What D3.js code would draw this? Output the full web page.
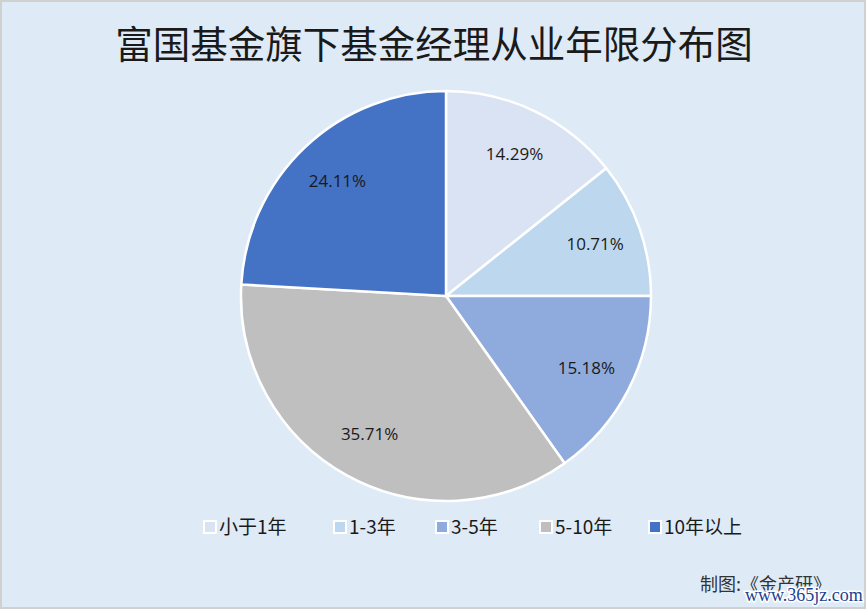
<!DOCTYPE html>
<html><head><meta charset="utf-8">
<script src="https://cdn.jsdelivr.net/npm/d3@7"></script>
<style>html,body{margin:0;padding:0;background:#fff;}svg{display:block;}</style>
</head><body>
<script>
const title = "富国基金旗下基金经理从业年限分布图";
const categories = ["小于1年", "1-3年", "3-5年", "5-10年", "10年以上"];
const values = [14.29, 10.71, 15.18, 35.71, 24.11];
const colors = ["#dae3f3", "#bdd7ee", "#8faadc", "#bfbfbf", "#4472c4"];
const credit = "制图:《金产研》";
const watermark = "www.365jz.com";

const W = 867, H = 610;
const svg = d3.select("body").append("svg").attr("width", W).attr("height", H);
svg.append("rect").attr("x", 1).attr("y", 1).attr("width", W - 3).attr("height", H - 3)
  .attr("fill", "#deebf7").attr("stroke", "#d0d0d0").attr("stroke-width", 2);

svg.append("text").attr("x", 434).attr("y", 58).attr("text-anchor", "middle")
  .attr("font-family", "Noto Sans CJK SC").attr("font-size", 37.5).attr("fill", "#1a1a1a").text(title);

const cx = 446, cy = 296, R = 205;
const pie = d3.pie().sort(null).value(d => d)(values);
const arc = d3.arc().innerRadius(0).outerRadius(R);
const labelArc = d3.arc().innerRadius(158).outerRadius(158);
const g = svg.append("g").attr("transform", `translate(${cx},${cy})`);
g.selectAll("path").data(pie).join("path").attr("d", arc)
  .attr("fill", (d, i) => colors[i]).attr("stroke", "#fff").attr("stroke-width", 2.5).attr("stroke-linejoin", "round");
g.selectAll("text").data(pie).join("text")
  .attr("transform", d => `translate(${labelArc.centroid(d)})`)
  .attr("text-anchor", "middle").attr("dy", "0.35em")
  .attr("font-family", "Open Sans").attr("font-size", 17).attr("fill", "#1a1a1a")
  .text((d, i) => values[i].toFixed(2) + "%");

// legend
const legendX = [203, 333, 435, 539, 648];
const lg = svg.append("g");
categories.forEach((c, i) => {
  const x = legendX[i];
  lg.append("rect").attr("x", x).attr("y", 520).attr("width", 14).attr("height", 14).attr("fill", "#fff");
  lg.append("rect").attr("x", x + 2).attr("y", 522).attr("width", 10).attr("height", 10).attr("fill", colors[i]);
  lg.append("text").attr("x", x + 16).attr("y", 527).attr("dy", "0.36em")
    .attr("font-family", "Noto Sans CJK SC").attr("font-size", 19).attr("fill", "#1a1a1a").text(c);
});

svg.append("text").attr("x", 700).attr("y", 591).attr("font-family", "Noto Sans CJK SC")
  .attr("font-size", 18).attr("fill", "#333").text(credit);
svg.append("text").attr("x", 745).attr("y", 601).attr("font-family", "Liberation Serif")
  .attr("font-size", 18).attr("fill", "#1c3f8f").attr("stroke", "#fff").attr("stroke-width", 3)
  .attr("paint-order", "stroke").text(watermark);
</script>
</body></html>
